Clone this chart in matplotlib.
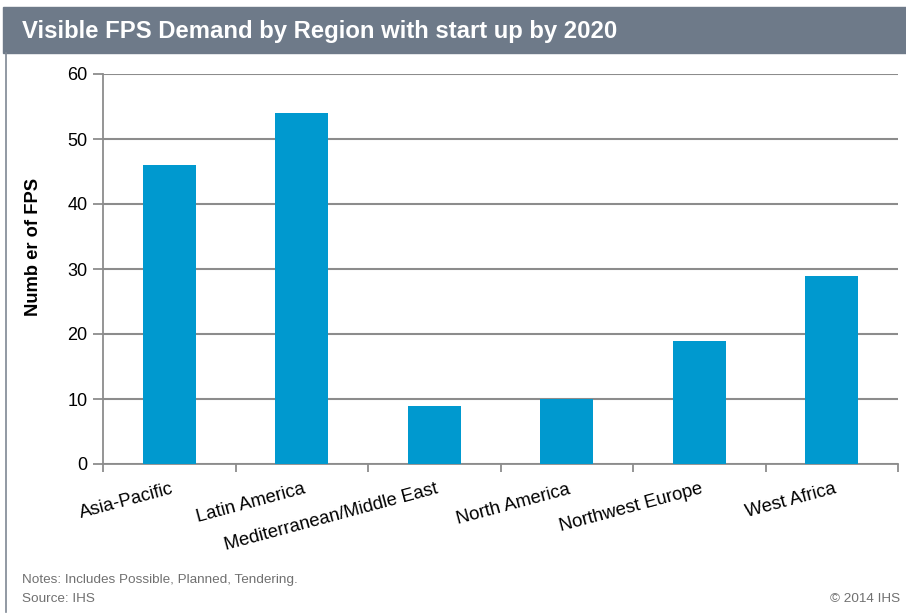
import matplotlib.pyplot as plt
from matplotlib.patches import Rectangle

regions = ['Asia-Pacific', 'Latin America', 'Mediterranean/Middle East',
           'North America', 'Northwest Europe', 'West Africa']
fps_counts = [46, 54, 9, 10, 19, 29]
y_ticks = [0, 10, 20, 30, 40, 50, 60]

plt.rcParams['font.family'] = ['Liberation Sans', 'DejaVu Sans']

fig = plt.figure(figsize=(9.06, 6.16), dpi=100)

# Header band and left border
fig.patches.append(Rectangle((3 / 906, 1 - 53 / 616), 903 / 906, 46 / 616,
                             transform=fig.transFigure, color='#6E7A89',
                             zorder=0))
fig.add_artist(plt.Line2D([6 / 906, 6 / 906], [1 - 53 / 616, 1 - 612 / 616],
                          transform=fig.transFigure, color='#7F8894',
                          linewidth=1.2))
fig.text(22 / 906, 1 - 38 / 616,
         'Visible FPS Demand by Region with start up by 2020',
         color='white', fontsize=17.2, fontweight='bold', va='baseline')

ax = fig.add_axes([103 / 906, 1 - 464 / 616, 795 / 906, 390 / 616])
x = range(len(regions))
ax.bar(x, fps_counts, width=0.40, color='#0099CF', zorder=3)

ax.set_xlim(-0.5, len(regions) - 0.5)
ax.set_ylim(0, 60)
ax.set_yticks(y_ticks)
ax.yaxis.grid(True, color='#8C8C8C', linewidth=1.5, zorder=0)

# Ticks at category boundaries, labels below the bars
ax.set_xticks([i - 0.5 for i in range(len(regions) + 1)])
ax.set_xticklabels([])
ax.tick_params(axis='x', length=6, color='#8C8C8C', width=1.3)
ax.tick_params(axis='y', length=7, color='#8C8C8C', width=1.3,
               labelsize=13, pad=4)
for i, name in enumerate(regions):
    ax.annotate(name, xy=(i, 0), xycoords=('data', 'axes fraction'),
                xytext=(1, -12), textcoords='offset points',
                rotation=15, rotation_mode='anchor', ha='right', va='top',
                fontsize=13.3)

for side in ['top', 'right']:
    ax.spines[side].set_visible(False)
ax.spines['left'].set_color('#8C8C8C')
ax.spines['bottom'].set_color('#8C8C8C')
ax.spines['left'].set_linewidth(1.3)
ax.spines['bottom'].set_linewidth(1.3)

fig.text(33 / 906, 1 - 247 / 616, 'Numb er of FPS', rotation=90,
         fontsize=13.2, fontweight='bold', ha='center', va='center')

fig.text(22 / 906, 1 - 580 / 616, 'Notes: Includes Possible, Planned, Tendering.',
         fontsize=9.7, color='#707070', va='center')
fig.text(22 / 906, 1 - 599 / 616, 'Source: IHS',
         fontsize=9.7, color='#707070', va='center')
fig.text(900 / 906, 1 - 599 / 616, '\u00a9 2014 IHS',
         fontsize=9.7, color='#707070', va='center', ha='right')

fig.savefig('out.png', dpi=100)
